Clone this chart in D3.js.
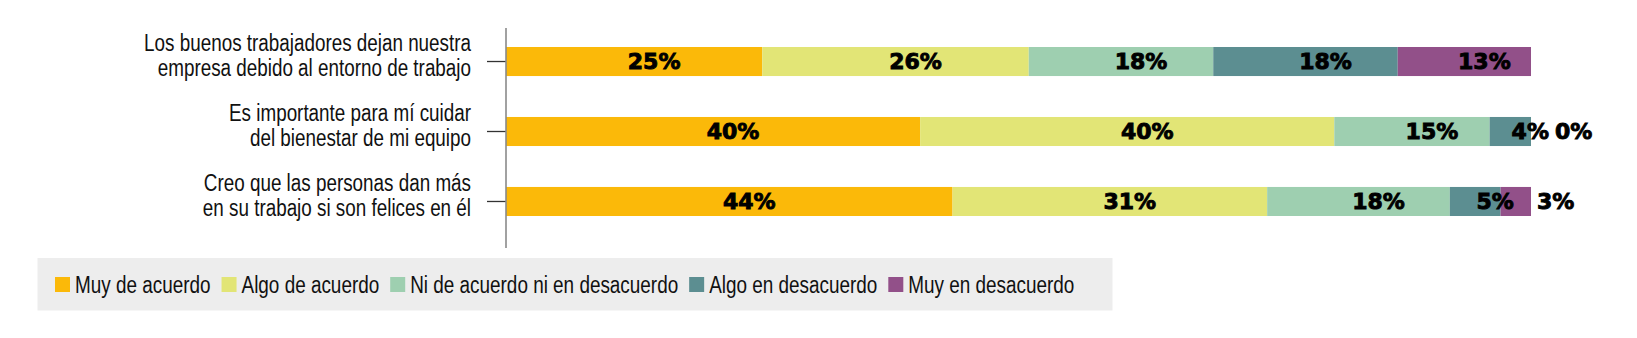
<!DOCTYPE html>
<html>
<head>
<meta charset="utf-8">
<script src="https://cdn.jsdelivr.net/npm/d3@7"></script>
<style>
  html, body { margin: 0; padding: 0; background: #ffffff; }
  svg { display: block; }
  .cat { font-family: "Liberation Sans", Arial, sans-serif; font-size: 23px; fill: #111; }
  .lbl { font-family: "DejaVu Sans", sans-serif; font-weight: bold; font-size: 22px; fill: #000; stroke: #000; stroke-width: 0.9px; }
  .leg { font-family: "Liberation Sans", Arial, sans-serif; font-size: 23px; fill: #111; }
</style>
</head>
<body>
<script>
// ---- data ----
const categories = [
  ["Los buenos trabajadores dejan nuestra", "empresa debido al entorno de trabajo"],
  ["Es importante para mí cuidar", "del bienestar de mi equipo"],
  ["Creo que las personas dan más", "en su trabajo si son felices en él"]
];
const seriesNames = ["Muy de acuerdo", "Algo de acuerdo", "Ni de acuerdo ni en desacuerdo", "Algo en desacuerdo", "Muy en desacuerdo"];
const muyDeAcuerdo   = [25, 40, 44];
const algoDeAcuerdo  = [26, 40, 31];
const niNi           = [18, 15, 18];
const algoDesacuerdo = [18, 4, 5];
const muyDesacuerdo  = [13, 0, 3];
const colors = ["#FBB909", "#E2E576", "#9ECFB0", "#5C8E91", "#925089"];

const seriesValues = [muyDeAcuerdo, algoDeAcuerdo, niNi, algoDesacuerdo, muyDesacuerdo];

// ---- layout ----
const W = 1637, H = 338;
const narrow = 0.82;      // horizontal condensing of category text
const narrowLeg = 0.822;  // horizontal condensing of legend text
const svg = d3.select("body").append("svg").attr("width", W).attr("height", H);

const x = d3.scaleLinear().domain([0, 1]).range([506, 1531]);
const y = d3.scaleBand().domain(d3.range(categories.length)).range([26, 237]).paddingInner(0.585).paddingOuter(0.3);

// rows normalized to 100%
const rows = categories.map((c, i) => {
  const vals = seriesValues.map(s => s[i]);
  const total = d3.sum(vals);
  let cum = 0;
  return vals.map((v, k) => {
    const seg = { row: i, k, v, x0: cum / total, x1: (cum + v) / total };
    cum += v;
    return seg;
  });
});

// bars
const g = svg.append("g");
rows.forEach(segs => {
  g.selectAll(null).data(segs).enter().append("rect")
    .attr("x", d => x(d.x0))
    .attr("y", d => y(d.row))
    .attr("width", d => Math.max(0, x(d.x1) - x(d.x0)))
    .attr("height", y.bandwidth())
    .attr("fill", d => colors[d.k]);
});

// axis
const axis = d3.axisLeft(y).tickSize(19).tickSizeOuter(0).tickFormat("");
const ax = svg.append("g").attr("transform", `translate(${x.range()[0]},0)`).call(axis);
ax.select(".domain").remove();
ax.selectAll(".tick line").attr("stroke", "#333").attr("stroke-width", 1.3);
svg.append("line")
  .attr("x1", x.range()[0]).attr("x2", x.range()[0])
  .attr("y1", 28).attr("y2", 248)
  .attr("stroke", "#8a8a8a").attr("stroke-width", 1.6);

// category labels
categories.forEach((lines, i) => {
  const cy = y(i) + y.bandwidth() / 2 - 6;
  const t = svg.append("text").attr("class", "cat").attr("text-anchor", "end")
    .attr("transform", `translate(471,${cy}) scale(${narrow},1)`);
  lines.forEach((ln, j) => {
    t.append("tspan").attr("x", 0).attr("y", (j - (lines.length - 1) / 2) * 25).attr("dy", "0.35em").text(ln);
  });
});

// value labels
const labelShift = 20;
rows.forEach(segs => {
  let prevRight = -Infinity;
  segs.forEach(d => {
    const t = svg.append("text").attr("class", "lbl")
      .attr("y", y(d.row) + y.bandwidth() / 2).attr("dy", "0.36em")
      .text(d.v + "%");
    const tw = t.node().getComputedTextLength();
    const segW = x(d.x1) - x(d.x0);
    let left;
    if (segW >= tw * 0.95) {
      left = (x(d.x0) + x(d.x1)) / 2 + labelShift - tw / 2;
    } else {
      left = Math.max(x.range()[1] + 6, prevRight + 6);
    }
    left = Math.max(left, prevRight + 4);
    t.attr("x", left);
    prevRight = left + tw;
  });
});

// legend
const legG = svg.append("g");
legG.append("rect").attr("x", 37.5).attr("y", 258).attr("width", 1075).attr("height", 52.5).attr("fill", "#EDEDED");
let lx = 55;
seriesNames.forEach((name, k) => {
  legG.append("rect").attr("x", lx).attr("y", 277).attr("width", 15).attr("height", 15).attr("fill", colors[k]);
  const t = legG.append("text").attr("class", "leg")
    .attr("transform", `translate(${lx + 20},284.5) scale(${narrowLeg},1)`)
    .attr("dy", "0.35em").text(name);
  lx += 20 + t.node().getComputedTextLength() * narrowLeg + 11;
});
</script>
</body>
</html>
